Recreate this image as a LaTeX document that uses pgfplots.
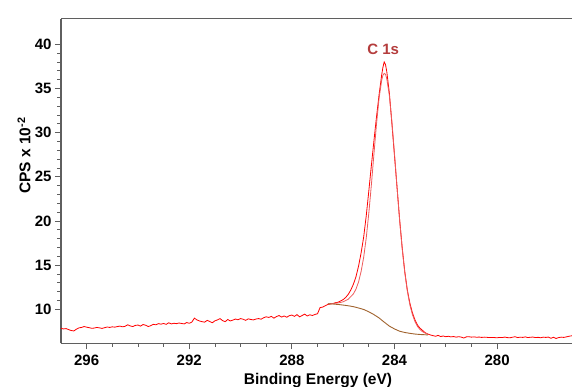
\documentclass[border=0pt]{standalone}
\usepackage{fontspec}
\setmainfont{Liberation Sans}
\usepackage{pgfplots}
\pgfplotsset{compat=1.18}
\definecolor{datared}{RGB}{255,0,0}
\definecolor{fitred}{RGB}{238,90,90}
\definecolor{bgbrown}{RGB}{160,98,45}
\definecolor{lblred}{RGB}{180,60,60}
\definecolor{axgray}{RGB}{95,95,95}
\begin{document}
\begin{tikzpicture}
\begin{axis}[
  at={(0pt,0pt)}, anchor=south west,
  scale only axis, width=521pt, height=324.6pt,
  x dir=reverse,
  xmin=276.69, xmax=297.0,
  ymin=6.154, ymax=42.896,
  xtick={280,284,288,292,296},
  ytick={10,15,20,25,30,35,40},
  minor x tick num=3, minor y tick num=4,
  tick align=outside,
  major tick length=6pt, minor tick length=3.5pt,
  tick style={axgray, line width=0.8pt},
  axis line style={axgray, line width=1.2pt},
  separate axis lines,
  every outer x axis line/.append style={},
  xtick pos=bottom, ytick pos=left,
  /pgf/number format/assume math mode=true,
  /pgf/number format/1000 sep={},
  ticklabel style={font=\bfseries\fontsize{15}{17}\selectfont},
  xticklabel style={yshift=-2pt},
  yticklabel style={xshift=0pt},
  clip=true,
]
\addplot[datared, line width=0.8pt] coordinates {
(297.0,7.85)(296.9,7.78)(296.8,7.82)(296.7,7.70)(296.6,7.60)(296.5,7.55)(296.4,7.75)(296.3,7.90)(296.2,7.95)(296.1,8.05)
(296.0,7.98)(295.9,7.92)(295.8,7.85)(295.7,7.88)(295.6,7.95)(295.5,7.90)(295.4,7.84)(295.3,7.92)(295.2,8.00)(295.1,7.95)
(295.0,8.02)(294.9,7.98)(294.8,8.05)(294.7,8.10)(294.6,8.02)(294.5,8.08)(294.4,8.25)(294.3,8.12)(294.2,8.05)(294.1,8.18)
(294.0,8.22)(293.9,8.10)(293.8,8.28)(293.7,8.20)(293.6,8.05)(293.5,8.15)(293.4,8.30)(293.3,8.25)(293.2,8.38)(293.1,8.32)
(293.0,8.40)(292.9,8.30)(292.8,8.48)(292.7,8.35)(292.6,8.42)(292.5,8.38)(292.4,8.45)(292.3,8.40)(292.2,8.35)(292.1,8.50)
(292.0,8.42)(291.9,8.55)(291.8,9.00)(291.7,8.80)(291.6,8.68)(291.5,8.60)(291.4,8.55)(291.3,8.75)(291.2,8.62)(291.1,8.48)
(291.0,8.70)(290.9,8.80)(290.8,8.95)(290.7,8.72)(290.6,8.60)(290.5,8.85)(290.4,8.68)(290.3,8.78)(290.2,8.90)(290.1,8.82)
(290.0,8.95)(289.9,8.88)(289.8,8.75)(289.7,8.92)(289.6,8.85)(289.5,8.80)(289.4,8.90)(289.3,8.95)(289.2,8.88)(289.1,9.05)
(289.0,9.15)(288.9,9.08)(288.8,9.20)(288.7,9.00)(288.6,9.18)(288.5,9.30)(288.4,9.12)(288.3,9.25)(288.2,9.10)(288.1,9.28)
(288.0,9.35)(287.9,9.20)(287.8,9.40)(287.7,9.15)(287.6,9.30)(287.5,9.45)(287.4,9.25)(287.3,9.38)(287.2,9.30)(287.1,9.42)
(287.0,9.50)(286.9,10.20)(286.8,10.25)(286.7,10.40)(286.6,10.55)(286.5,10.60)(286.4,10.65)(286.3,10.75)(286.2,10.80)(286.1,10.95)
(286.0,11.10)(285.9,11.35)(285.8,11.70)(285.7,12.20)(285.6,12.85)(285.5,13.70)(285.4,14.90)(285.3,16.40)(285.2,18.20)(285.1,20.60)
(285.0,23.40)(284.9,26.30)(284.8,29.10)(284.7,31.80)(284.6,34.30)(284.5,36.50)(284.45,37.40)(284.4,38.00)(284.35,37.70)(284.3,36.90)
(284.2,34.50)(284.1,31.00)(284.0,27.40)(283.9,23.80)(283.8,20.20)(283.7,17.00)(283.6,14.30)(283.5,12.20)(283.4,10.70)(283.3,9.60)
(283.2,8.80)(283.1,8.20)(283.0,7.85)(282.9,7.60)(282.8,7.35)(282.7,7.20)(282.6,7.10)(282.5,7.02)(282.4,6.95)(282.3,7.05)
(282.2,6.92)(282.1,6.98)(282.0,6.90)(281.9,6.95)(281.8,6.88)(281.7,6.92)(281.6,6.85)(281.5,6.90)(281.4,6.86)(281.3,6.75)
(281.2,6.88)(281.1,6.90)(281.0,6.85)(280.9,6.88)(280.8,6.84)(280.7,6.86)(280.6,6.82)(280.5,6.85)(280.4,6.83)(280.3,6.80)
(280.2,6.82)(280.1,6.80)(280.0,6.78)(279.9,6.82)(279.8,6.80)(279.7,6.86)(279.6,6.80)(279.5,6.78)(279.4,6.84)(279.3,6.90)
(279.2,6.80)(279.1,6.85)(279.0,6.82)(278.9,6.88)(278.8,6.80)(278.7,6.84)(278.6,6.86)(278.5,6.80)(278.4,6.83)(278.3,6.78)
(278.2,6.85)(278.1,6.82)(278.0,6.86)(277.9,6.72)(277.8,6.84)(277.7,6.70)(277.6,6.80)(277.5,6.85)(277.4,6.82)(277.3,6.88)
(277.2,6.95)(277.1,7.00)(277.0,7.05)(276.9,7.00)(276.8,6.95)
};
\addplot[fitred, line width=0.8pt] coordinates {
(286.6,10.62)(286.4,10.66)(286.2,10.72)(286.0,10.85)(285.8,11.15)(285.6,11.75)(285.5,12.30)(285.4,13.10)(285.3,14.30)(285.2,15.90)
(285.1,18.10)(285.0,20.90)(284.9,24.10)(284.8,27.60)(284.7,31.00)(284.6,33.90)(284.5,35.90)(284.45,36.50)(284.4,36.70)(284.35,36.60)
(284.3,36.10)(284.2,34.20)(284.1,31.20)(284.0,27.60)(283.9,23.80)(283.8,20.10)(283.7,16.90)(283.6,14.20)(283.5,12.10)(283.4,10.50)
(283.3,9.40)(283.2,8.60)(283.1,8.05)(283.0,7.70)(282.9,7.45)(282.8,7.30)(282.7,7.22)
};
\addplot[bgbrown, line width=0.9pt] coordinates {
(286.6,10.62)(286.4,10.60)(286.2,10.55)(286.0,10.48)(285.8,10.40)(285.6,10.30)(285.4,10.15)(285.2,9.98)(285.0,9.72)(284.8,9.40)
(284.6,9.02)(284.4,8.55)(284.2,8.10)(284.0,7.78)(283.8,7.52)(283.6,7.38)(283.4,7.28)(283.2,7.20)(283.0,7.15)(282.8,7.12)(282.7,7.10)
};
\node[lblred, anchor=base, font=\bfseries\fontsize{15}{17}\selectfont, inner sep=0pt] at (axis cs:284.44,38.79) {C 1s};
\end{axis}
\node[rotate=90, anchor=center, font=\bfseries\fontsize{15.5}{17}\selectfont, inner sep=0pt] at (-37pt,187.8pt) {CPS x 10\textsuperscript{-2}};
\node[anchor=base, font=\bfseries\fontsize{15.5}{17}\selectfont, inner sep=0pt] at (257pt,-41.1pt) {Binding Energy (eV)};
\pgfresetboundingbox
\useasboundingbox (-61pt,-43.7pt) rectangle (511pt,343.3pt);
\end{tikzpicture}
\end{document}
